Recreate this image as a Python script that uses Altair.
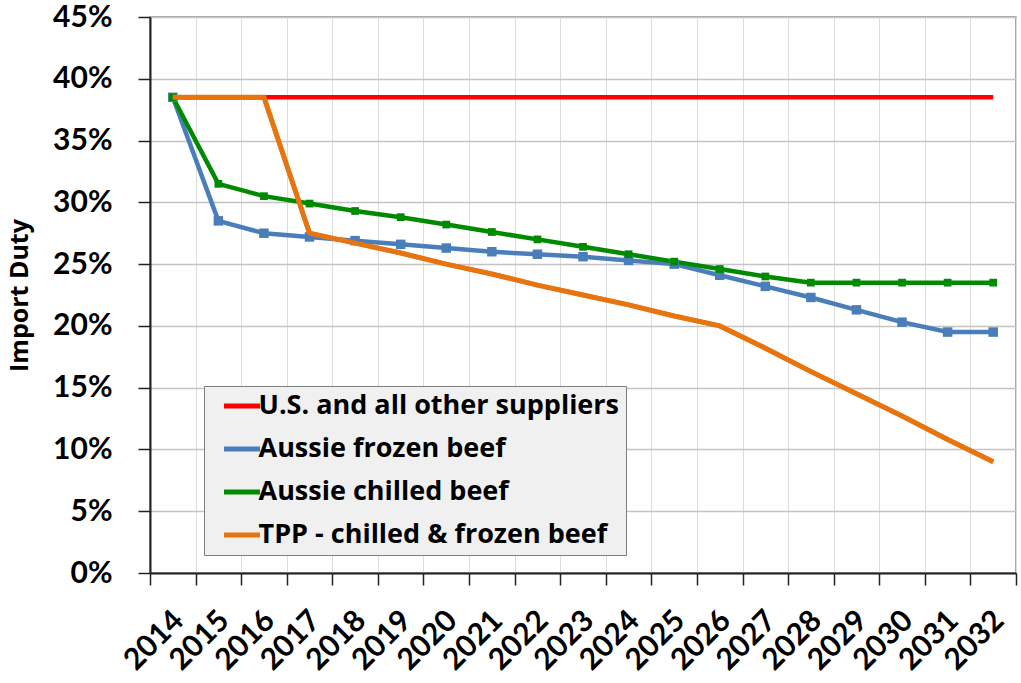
import altair as alt
import pandas as pd

years = [str(y) for y in range(2014, 2033)]
series_names = [
    "U.S. and all other suppliers",
    "Aussie frozen beef",
    "Aussie chilled beef",
    "TPP - chilled & frozen beef",
]
us_other = [38.5] * 19
aussie_frozen = [38.5, 28.5, 27.5, 27.2, 26.9, 26.6, 26.3, 26.0, 25.8, 25.6,
                 25.3, 25.0, 24.1, 23.2, 22.3, 21.3, 20.3, 19.5, 19.5]
aussie_chilled = [38.5, 31.5, 30.5, 29.9, 29.3, 28.8, 28.2, 27.6, 27.0, 26.4,
                  25.8, 25.2, 24.6, 24.0, 23.5, 23.5, 23.5, 23.5, 23.5]
tpp = [38.5, 38.5, 38.5, 27.5, 26.7, 25.9, 25.0, 24.2, 23.3, 22.5,
       21.7, 20.8, 20.0, 18.2, 16.3, 14.5, 12.7, 10.8, 9.0]
colors = ["#ff0000", "#4a7ebb", "#008a00", "#e8740f"]
y_ticks = [0, 0.05, 0.10, 0.15, 0.20, 0.25, 0.30, 0.35, 0.40, 0.45]

rows = []
for i, (name, vals) in enumerate(zip(series_names, [us_other, aussie_frozen, aussie_chilled, tpp])):
    for yr, v in zip(years, vals):
        rows.append({"year": yr, "duty": v / 100.0, "series": name, "order": i})
df = pd.DataFrame(rows)

AXFONT = "Lato"
TXTFONT = "Open Sans"

x_enc = alt.X(
    "year:N",
    scale=alt.Scale(type="band", paddingInner=0, paddingOuter=0, domain=years),
    axis=alt.Axis(
        title=None,
        tickBand="extent",
        grid=True,
        gridColor="#dcdcdc",
        gridWidth=1,
        tickSize=12,
        tickColor="#222222",
        tickWidth=1.5,
        domainColor="#222222",
        domainWidth=2,
        labelAngle=-45,
        labelAlign="right",
        labelBaseline="top",
        labelPadding=20,
        labelOffset=-5,
        labelFontSize=30,
        labelFontWeight="bold",
        labelFont=AXFONT,
        labelColor="#000000",
    ),
    bandPosition=0.5,
)
y_enc = alt.Y(
    "duty:Q",
    scale=alt.Scale(domain=[0, 0.45], nice=False),
    axis=alt.Axis(
        title="Import Duty",
        titleFont=TXTFONT,
        titleFontSize=25,
        titleFontWeight="bold",
        titleColor="#000000",
        titleX=-118,
        titleY=278,
        titleBaseline="bottom",
        values=y_ticks,
        format=".0%",
        grid=True,
        gridColor="#c4c4c4",
        gridWidth=1.5,
        tickSize=12,
        tickColor="#222222",
        tickWidth=1.5,
        domainColor="#222222",
        domainWidth=2,
        labelPadding=26,
        labelFontSize=30,
        labelFontWeight="bold",
        labelFont=AXFONT,
        labelColor="#000000",
    ),
)
color_enc = alt.Color(
    "series:N",
    scale=alt.Scale(domain=series_names, range=colors),
    sort=series_names,
    legend=alt.Legend(
        title=None,
        orient="none",
        legendX=54,
        legendY=369,
        direction="vertical",
        fillColor="#f0f0f0",
        strokeColor="#7f7f7f",
        padding=6.5,
        symbolType="M-2,0H2",
        symbolSize=324,
        symbolStrokeWidth=5,
        symbolOffset=18,
        labelFont=TXTFONT,
        labelFontSize=27,
        labelFontWeight="bold",
        labelColor="#000000",
        labelOffset=3,
        rowPadding=15,
        labelLimit=600,
    ),
)

base = alt.Chart(df)
lines = base.mark_line(strokeWidth=4.5).encode(
    x=x_enc, y=y_enc, color=color_enc, detail="series:N",
    order=alt.Order("order:Q"),
)
pts_blue = base.transform_filter(alt.datum.series == series_names[1]).mark_square(
    size=90, opacity=1
).encode(x=x_enc, y=y_enc, color=color_enc)
pts_green = base.transform_filter(alt.datum.series == series_names[2]).mark_square(
    size=60, opacity=1
).encode(x=x_enc, y=y_enc, color=color_enc)
tpp_line = base.transform_filter(alt.datum.series == series_names[3]).mark_line(
    strokeWidth=5
).encode(x=x_enc, y=y_enc, color=color_enc)

chart = alt.layer(lines, pts_blue, pts_green, tpp_line).properties(
    width=866,
    height=556,
    autosize=alt.AutoSizeParams(type="none"),
    padding={"left": 150, "top": 17, "right": 5, "bottom": 110},
    background="#ffffff",
).configure_view(
    stroke="#8a8a8a", strokeWidth=1.5
)

chart.save("out.html", embed_options={"renderer": "svg", "actions": False})
